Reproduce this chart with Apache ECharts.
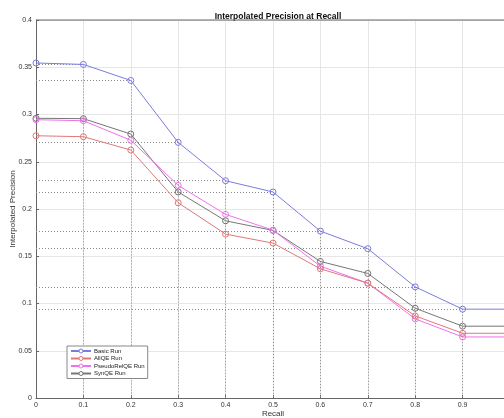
<!DOCTYPE html>
<html>
<head>
<meta charset="utf-8">
<script src="https://cdn.jsdelivr.net/npm/echarts@6/dist/echarts.min.js"></script>
<style>
  html, body { margin: 0; padding: 0; background: #fff; }
  #chart { width: 504px; height: 418px; }
</style>
</head>
<body>
<div id="chart"></div>
<script>
// recall levels and interpolated precision per run
var recall = [0, 0.1, 0.2, 0.3, 0.4, 0.5, 0.6, 0.7, 0.8, 0.9, 1.0];
var basicRun = [0.3545, 0.353, 0.336, 0.2705, 0.2299, 0.218, 0.1766, 0.158, 0.1176, 0.094, 0.094];
var allQERun = [0.2775, 0.2765, 0.2624, 0.2066, 0.1734, 0.1639, 0.1367, 0.1215, 0.0869, 0.0685, 0.0685];
var pseudoRelQERun = [0.2945, 0.2934, 0.2727, 0.225, 0.1943, 0.1776, 0.1395, 0.1215, 0.0837, 0.0646, 0.0646];
var synQERun = [0.296, 0.2956, 0.2793, 0.218, 0.1875, 0.1773, 0.1445, 0.1318, 0.095, 0.076, 0.076];
var seriesNames = ['Basic Run', 'AllQE Run', 'PseudoRelQE Run', 'SynQE Run'];
var seriesColors = ['#7b7be0', '#e07878', '#ee70ee', '#767676'];

function pairs(vals) {
    var out = [];
    for (var i = 0; i < recall.length; i++) {
        out.push([recall[i], vals[i]]);
    }
    return out;
}

// dotted drop lines from the Basic Run points to both axes
function dropLines(vals) {
    var lines = [];
    for (var i = 1; i < recall.length - 1; i++) {
        lines.push([{ coord: [0, vals[i]] }, { coord: [recall[i], vals[i]] }]);
        lines.push([{ coord: [recall[i], vals[i]] }, { coord: [recall[i], 0] }]);
    }
    return lines;
}

var allData = [basicRun, allQERun, pseudoRelQERun, synQERun];
var series = [];
for (var s = 0; s < allData.length; s++) {
    var item = {
        name: seriesNames[s],
        type: 'line',
        data: pairs(allData[s]),
        symbol: 'circle',
        symbolSize: 6,
        showSymbol: true,
        color: seriesColors[s],
        lineStyle: { width: 1, color: seriesColors[s] },
        itemStyle: { color: 'rgba(255,255,255,0)', borderColor: seriesColors[s], borderWidth: 1 },
        z: 10 - s
    };
    if (s == 0) {
        item.markLine = {
            silent: true,
            symbol: ['none', 'none'],
            label: { show: false },
            lineStyle: { type: [1, 2], color: '#8a8a8a', width: 1 },
            data: dropLines(basicRun),
            z: 1
        };
    }
    series.push(item);
}
// last points at recall 1.0 are off the visible area, hide their markers
series.forEach(function (sr) {
    sr.data[sr.data.length - 1] = { value: sr.data[sr.data.length - 1], symbol: 'none' };
});

var myChart = echarts.init(document.getElementById('chart'));
var option = {
    animation: false,
    backgroundColor: '#fff',
    title: {
        text: 'Interpolated Precision at Recall',
        left: 273,
        top: 7,
        textAlign: 'center',
        textStyle: { fontFamily: 'Liberation Sans', fontSize: 8.5, fontWeight: 'bold', color: '#111' }
    },
    legend: {
        data: seriesNames.map(function (n, i) {
            return { name: n, itemStyle: { color: '#fff', borderColor: seriesColors[i], borderWidth: 1 } };
        }),
        orient: 'vertical',
        left: 67,
        top: 346,
        itemWidth: 20,
        itemHeight: 5,
        itemGap: 1.5,
        padding: [2, 3, 2, 3],
        borderColor: '#888',
        borderWidth: 1,
        backgroundColor: '#fff',
        textStyle: { fontFamily: 'Liberation Sans', fontSize: 6, color: '#222', padding: [0, 0, 0, -2] }
    },
    grid: { left: 36, right: -6, top: 20, bottom: 20, outerBoundsMode: 'none' },
    xAxis: {
        type: 'value',
        min: 0,
        max: 1,
        interval: 0.1,
        name: 'Recall',
        nameLocation: 'middle',
        nameGap: 12,
        nameMoveOverlap: false,
        nameTextStyle: { fontFamily: 'Liberation Sans', fontSize: 8, color: '#333' },
        axisLine: { show: true, onZero: false, lineStyle: { color: '#666', width: 1 } },
        axisTick: { show: true, inside: true, length: 3, lineStyle: { color: '#666' } },
        axisLabel: {
            fontFamily: 'Liberation Sans', fontSize: 7, color: '#333', margin: 4,
            formatter: function (v) { return v == 1 ? '' : String(Math.round(v * 10) / 10); }
        },
        splitLine: { show: true, lineStyle: { color: '#e6e6e6', width: 1 } }
    },
    yAxis: {
        type: 'value',
        min: 0,
        max: 0.4,
        interval: 0.05,
        name: 'Interpolated Precision',
        nameLocation: 'middle',
        nameGap: 19,
        nameMoveOverlap: false,
        nameTextStyle: { fontFamily: 'Liberation Sans', fontSize: 8, color: '#333' },
        axisLine: { show: true, lineStyle: { color: '#666', width: 1 } },
        axisTick: { show: true, inside: true, length: 3, lineStyle: { color: '#666' } },
        axisLabel: {
            fontFamily: 'Liberation Sans', fontSize: 7, color: '#333', margin: 4,
            formatter: function (v) { return String(Math.round(v * 100) / 100); }
        },
        splitLine: { show: true, lineStyle: { color: '#e6e6e6', width: 1 } }
    },
    series: series
};
myChart.setOption(option);

// top border of the axes box, placed with the chart's own scale
var topLeft = myChart.convertToPixel({ gridIndex: 0 }, [0, 0.4]);
var topRight = myChart.convertToPixel({ gridIndex: 0 }, [1, 0.4]);
myChart.setOption({
    graphic: [{
        type: 'line',
        shape: { x1: topLeft[0], y1: topLeft[1], x2: topRight[0], y2: topRight[1] },
        style: { stroke: '#666', lineWidth: 1 },
        z: 20
    }]
});
</script>
</body>
</html>
